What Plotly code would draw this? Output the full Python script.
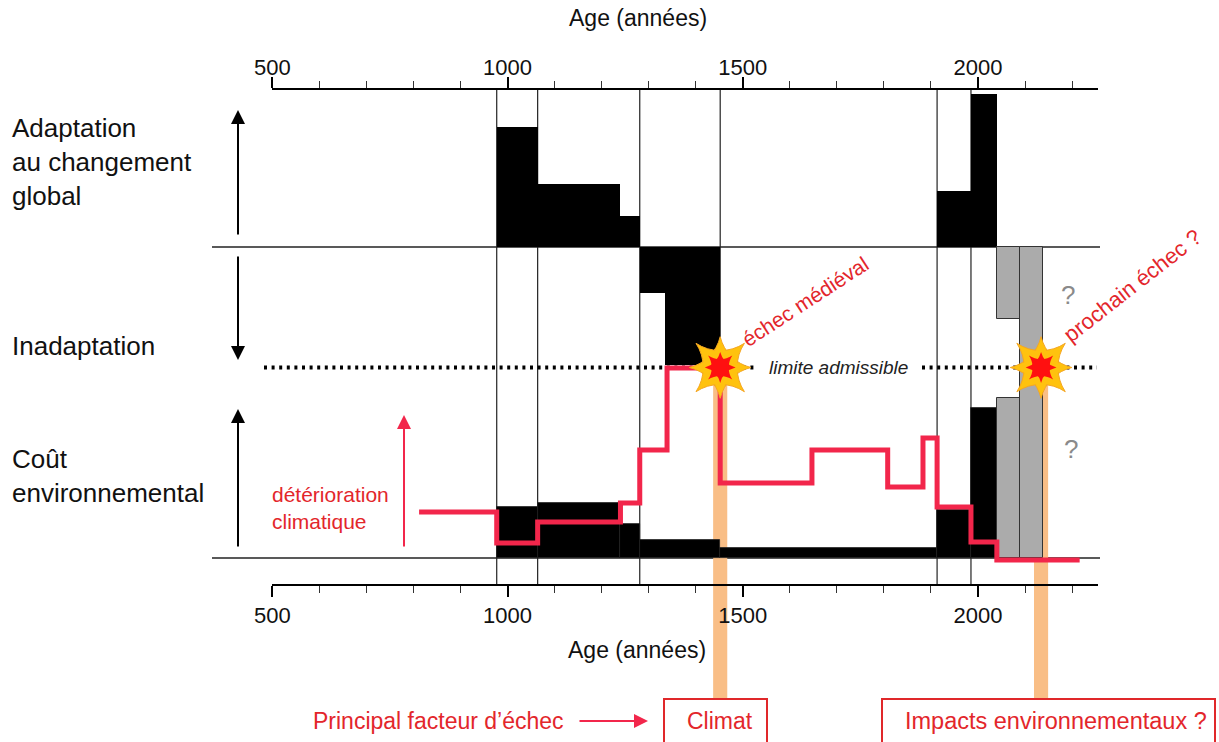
import plotly.graph_objects as go

W, H = 1219, 742

# ---------------- data ----------------
# Adaptation to global change (above the upper baseline)
adapt_edges = [977, 1064, 1240, 1281]
adapt_values = [120, 63, 31]
adapt_recent_edges = [1913, 1985, 2040]
adapt_recent_values = [56, 153]
# Inadaptation (below the upper baseline)
inadapt_edges = [1281, 1335, 1452]
inadapt_values = [46, 118]
inadapt_future_edges = [2040, 2089, 2138]
inadapt_future_values = [72, 120]
# Environmental cost (above the lower baseline)
cost_edges = [977, 1064, 1240, 1281, 1452, 1913, 1985, 2040]
cost_values = [51, 55, 34, 18, 10, 48, 150]
cost_future_edges = [2040, 2089, 2138]
cost_future_values = [160, 191]
# Climatic deterioration (step curve)
climate_years = [812, 977, 1064, 1240, 1281, 1339, 1452, 1647, 1808, 1883, 1913, 1985, 2040, 2216]
climate_levels = [46, 15, 36, 55, 108, 190, 75, 108, 71, 120, 51, 16, -2]
# Period boundaries, failures
period_bounds = [977, 1064, 1281, 1452, 1913, 1985]
failure_years = [1452, 2134]
failure_labels = ["échec médiéval", "prochain échec ?"]
limit_level = 190.5
adapt_base = 311
axis_tick0, axis_dtick, axis_minor = 500, 500, 100

# ---------------- styling ----------------
FONT = "Arial, Liberation Sans, Helvetica, sans-serif"
RED_LINE = "#F2264B"
RED_TXT = "#E3262B"
ORANGE = "#F9BE86"
GRAY = "#ABABAB"

def PX(x):
    return x / W

def PY(y):
    return 1 - y / H

# scale: top/bottom axis from pixel 272.3 (500) to 1098 (2255)
ax_px0, ax_px1 = 272.3, 1098.0
ax_y0, ax_y1 = 500, 2255
k = (ax_px1 - ax_px0) / (ax_y1 - ax_y0)
xmin = ax_y0 - ax_px0 / k
xmax = ax_y0 + (W - ax_px0) / k


def bars(edges, vals, base, sign, color, lcolor=None, lw=0):
    centers = [(a + b) / 2 for a, b in zip(edges[:-1], edges[1:])]
    widths = [b - a for a, b in zip(edges[:-1], edges[1:])]
    return go.Bar(
        x=centers, y=[sign * v for v in vals], base=base, width=widths,
        marker=dict(color=color, line=dict(color=lcolor or color, width=lw)),
        showlegend=False, hoverinfo="skip", xaxis="x", yaxis="y",
    )


fig = go.Figure()
fig.add_trace(bars(adapt_edges, adapt_values, adapt_base, 1, "black"))
fig.add_trace(bars(adapt_recent_edges, adapt_recent_values, adapt_base, 1, "black"))
fig.add_trace(bars(inadapt_edges, inadapt_values, adapt_base, -1, "black"))
fig.add_trace(bars(cost_edges, cost_values, 0, 1, "black", "#222", 0.8))
fig.add_trace(bars(inadapt_future_edges, inadapt_future_values, adapt_base, -1, GRAY, "#333", 1))
fig.add_trace(bars(cost_future_edges, cost_future_values, 0, 1, GRAY, "#333", 1))

# climatic deterioration
fig.add_trace(go.Scatter(
    x=climate_years, y=climate_levels + [climate_levels[-1]], mode="lines",
    line=dict(shape="hv", color=RED_LINE, width=5), showlegend=False, hoverinfo="skip",
))

# failure stars (8-point star = two 4-point stars)
for sym in ["star-diamond", "star-square"]:
    fig.add_trace(go.Scatter(
        x=failure_years, y=[limit_level] * len(failure_years), mode="markers",
        marker=dict(symbol=sym, size=44, color="#FFC20E", line=dict(width=1, color="#F5A623")),
        showlegend=False, hoverinfo="skip",
    ))
fig.add_trace(go.Scatter(
    x=failure_years, y=[limit_level] * len(failure_years), mode="markers",
    marker=dict(symbol="star-diamond", size=41, color="#FFC20E", line=dict(width=0)),
    showlegend=False, hoverinfo="skip",
))
for sym in ["star-diamond", "star-square"]:
    fig.add_trace(go.Scatter(
        x=failure_years, y=[limit_level] * len(failure_years), mode="markers",
        marker=dict(symbol=sym, size=22, color="#FF1010", line=dict(width=0)),
        showlegend=False, hoverinfo="skip",
    ))

# dummy traces for the top and bottom age axes
fig.add_trace(go.Scatter(x=[None], y=[None], xaxis="x2", yaxis="y", showlegend=False, hoverinfo="skip"))
fig.add_trace(go.Scatter(x=[None], y=[None], xaxis="x3", yaxis="y", showlegend=False, hoverinfo="skip"))

shapes = []
# orange bands
for yr in failure_years:
    shapes.append(dict(type="rect", xref="x", yref="y", x0=yr - 15, x1=yr + 15,
                       y0=558 - 700, y1=limit_level - 2, fillcolor=ORANGE,
                       line=dict(width=0), layer="below"))
# baselines
for yv in [0, adapt_base]:
    shapes.append(dict(type="line", xref="paper", yref="y", x0=PX(212), x1=PX(1100),
                       y0=yv, y1=yv, line=dict(color="#222", width=1.3), layer="below"))
# period boundaries
for yr in period_bounds:
    shapes.append(dict(type="line", xref="x", yref="paper", x0=yr, x1=yr,
                       y0=PY(585), y1=PY(89), line=dict(color="#222", width=1.2), layer="below"))
# admissible limit
for a, b in [(264, 757), (922, 1097)]:
    shapes.append(dict(type="line", xref="paper", yref="y", x0=PX(a), x1=PX(b),
                       y0=limit_level, y1=limit_level,
                       line=dict(color="black", width=4, dash="3px,4.6px"), layer="below"))
# boxes
for a, b in [(664, 767), (882, 1215)]:
    shapes.append(dict(type="rect", xref="paper", yref="paper", x0=PX(a), x1=PX(b),
                       y0=PY(752), y1=PY(699), line=dict(color="#E0282A", width=2),
                       fillcolor="white", layer="above"))

ann = []

def text(x, y, s, size=26, color="#111", xanchor="left", angle=0, italic=False, align="left"):
    ann.append(dict(xref="paper", yref="paper", x=PX(x), y=PY(y), text=s, showarrow=False,
                    xanchor=xanchor, yanchor="middle", align=align, textangle=angle,
                    borderpad=0,
                    font=dict(family=FONT, size=size, color=color,
                              style="italic" if italic else "normal")))

def arrow(x, y, ax, ay, color="black", width=2, size=1.4):
    ann.append(dict(xref="paper", yref="paper", x=PX(x), y=PY(y), ax=ax, ay=ay,
                    axref="pixel", ayref="pixel", text="", showarrow=True,
                    arrowhead=2, arrowsize=size, arrowwidth=width, arrowcolor=color))

text(11, 162, "Adaptation<br>au changement<br>global")
text(11, 346, "Inadaptation")
text(11, 476, "Coût<br>environnemental")
text(271, 508, "détérioration<br>climatique", size=21, color=RED_TXT)
text(638, 18, "Age (années)", size=23, xanchor="center")
text(637, 650, "Age (années)", size=23, xanchor="center")
text(838, 367, "limite admissible", size=19, xanchor="center", italic=True, color="#222")
text(805, 301, failure_labels[0], size=21, xanchor="center", angle=-33, color=RED_TXT)
text(1133, 286, failure_labels[1], size=22, xanchor="center", angle=-38, color=RED_TXT)
text(1068, 295, "?", size=26, xanchor="center", color="#8a8a8a")
text(1071, 449, "?", size=26, xanchor="center", color="#8a8a8a")
text(438, 721, "Principal facteur d’échec", size=23, xanchor="center", color=RED_TXT)
text(720, 721, "Climat", size=23, xanchor="center", color=RED_TXT)
text(1056, 721, "Impacts environnementaux ?", size=23.5, xanchor="center", color=RED_TXT)

arrow(238, 110, 0, 126)
arrow(238, 360, 0, -105)
arrow(238, 409, 0, 139)
arrow(404, 415, 0, 133, color=RED_LINE, width=2)
arrow(648, 721, -70, 0, color=RED_LINE, width=2)

axis_common = dict(
    domain=[PX(ax_px0), PX(ax_px1)], range=[ax_y0, ax_y1], anchor="free",
    showline=True, linecolor="black", linewidth=1.5, ticks="outside", ticklen=11,
    tickwidth=1.5, tickcolor="black", tickmode="linear", tick0=axis_tick0, dtick=axis_dtick,
    minor=dict(ticks="outside", ticklen=7, tickwidth=1, tickcolor="#333", dtick=axis_minor, tick0=axis_tick0),
    tickfont=dict(family=FONT, size=22, color="#111"), showgrid=False, zeroline=False,
    fixedrange=True, automargin=False,
)

fig.update_layout(
    width=W, height=H, autosize=False,
    margin=dict(l=0, r=0, t=0, b=0, pad=0, autoexpand=False),
    paper_bgcolor="white", plot_bgcolor="rgba(0,0,0,0)",
    barmode="overlay", bargap=0,
    xaxis=dict(domain=[0, 1], range=[xmin, xmax], visible=False, fixedrange=True, automargin=False),
    yaxis=dict(domain=[0, 1], range=[-184, 558], visible=False, fixedrange=True, automargin=False),
    xaxis2=dict(axis_common, position=PY(89), side="top", ticklabelstandoff=-7),
    xaxis3=dict(axis_common, position=PY(585), side="bottom", ticklabelstandoff=0),
    shapes=shapes, annotations=ann, showlegend=False,
)

fig.write_html("out.html", config={"displayModeBar": False},
               post_script="document.body.style.margin='0';")
